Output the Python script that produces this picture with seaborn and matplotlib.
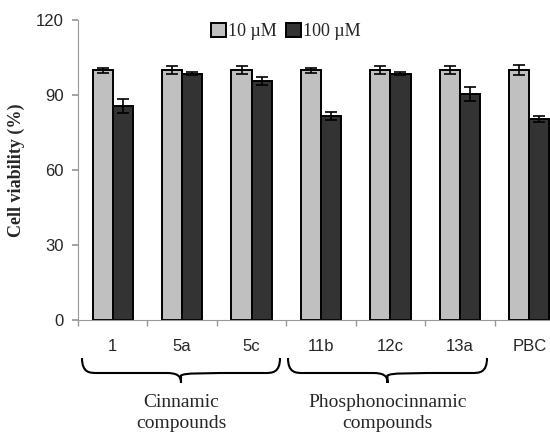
import numpy as np
import pandas as pd
import matplotlib
matplotlib.use("Agg")
import matplotlib.pyplot as plt
from matplotlib.path import Path
from matplotlib.patches import PathPatch
import seaborn as sns

compounds = ["1", "5a", "5c", "11b", "12c", "13a", "PBC"]
conc_labels = ["10 \u00b5M", "100 \u00b5M"]
viab_10 = [100, 100, 100, 100, 100, 100, 100]
err_10 = [1.0, 1.5, 1.5, 1.0, 1.5, 1.5, 2.0]
viab_100 = [85.6, 98.6, 95.6, 81.6, 98.6, 90.4, 80.4]
err_100 = [2.7, 0.5, 1.5, 1.7, 0.7, 2.7, 1.2]
group_names = ["Cinnamic\ncompounds", "Phosphonocinnamic\ncompounds"]
group_members = [["1", "5a", "5c"], ["11b", "12c", "13a"]]
yticks = [0, 30, 60, 90, 120]

sns.set_theme(style="white")
plt.rcParams['font.family'] = ['Liberation Sans', 'DejaVu Sans']

df = pd.DataFrame({
    "compound": compounds * 2,
    "conc": [conc_labels[0]] * len(compounds) + [conc_labels[1]] * len(compounds),
    "viability": viab_10 + viab_100,
    "err": err_10 + err_100,
})

W, H = 550, 438
fig = plt.figure(figsize=(W / 100, H / 100), dpi=100)
ax_left, ax_right = 78, 564
ax_top, ax_bot = 20, 320
ax = fig.add_axes([ax_left / W, 1 - ax_bot / H, (ax_right - ax_left) / W, (ax_bot - ax_top) / H])

sns.barplot(data=df, x="compound", y="viability", hue="conc", order=compounds,
            hue_order=conc_labels, palette=["#c0c0c0", "#333333"], width=0.58,
            edgecolor="black", linewidth=1.4, errorbar=None, ax=ax, legend=True,
            gap=0)

# error bars, positioned from the bar patches
bars = [p for p in ax.patches if p.get_height() > 0]
n = len(compounds)
for i, p in enumerate(bars[:2 * n]):
    e = df["err"].iloc[i]
    xc = p.get_x() + p.get_width() / 2
    ax.errorbar(xc, p.get_height(), yerr=e, fmt="none", ecolor="black",
                elinewidth=1.2, capsize=4, capthick=1.2, zorder=5)

ax.set_ylim(0, 120)
ax.set_xlim(-0.5, n - 0.5)
ax.set_yticks(yticks)
ax.set_yticklabels([str(t) for t in yticks], fontsize=12)
ax.set_xticks(range(n))
ax.set_xticklabels(compounds, fontsize=12)
ax.set_xticks(np.arange(-0.5, n, 1.0), minor=True)
ax.tick_params(axis="x", which="major", length=0, pad=14)
ax.tick_params(axis="x", which="minor", length=4, color="#999999", direction="out", bottom=True)
ax.tick_params(axis="y", length=4, color="#999999", direction="out", left=True, pad=6)
ax.set_xlabel("")
ax.set_ylabel("Cell viability (%)", fontsize=13, fontweight="bold",
              family=["Liberation Serif", "DejaVu Serif"], labelpad=8)
for s in ["top", "right"]:
    ax.spines[s].set_visible(False)
for s in ["left", "bottom"]:
    ax.spines[s].set_color("#999999")
    ax.spines[s].set_linewidth(0.8)

leg = ax.legend(loc="upper center", bbox_to_anchor=((286 - ax_left) / (ax_right - ax_left), 1.045),
                ncol=2, frameon=False, handlelength=0.8, handleheight=0.8,
                handletextpad=0.15, columnspacing=0.5,
                prop={"family": ["Liberation Serif", "DejaVu Serif"], "size": 13})

# braces beneath groups (figure pixel coordinates)
def brace(x0, x1, y_top, depth):
    xm = (x0 + x1) / 2
    d = depth
    verts = [(x0, y_top), (x0, y_top - d * 0.6), (x0 + 8, y_top - d * 0.6), (x0 + 15, y_top - d * 0.6),
             (xm - 15, y_top - d * 0.6), (xm - 4, y_top - d * 0.6), (xm, y_top - d * 0.7), (xm, y_top - d)]
    verts2 = [(xm, y_top - d), (xm, y_top - d * 0.7), (xm + 4, y_top - d * 0.6), (xm + 15, y_top - d * 0.6),
              (x1 - 15, y_top - d * 0.6), (x1 - 8, y_top - d * 0.6), (x1, y_top - d * 0.6), (x1, y_top)]
    codes = [Path.MOVETO, Path.CURVE4, Path.CURVE4, Path.CURVE4, Path.LINETO, Path.CURVE4, Path.CURVE4, Path.CURVE4]
    v = verts + verts2[1:]
    c = codes + codes[1:]
    c[len(codes)] = Path.LINETO
    return Path(v, c)

for name, members, (px0, px1) in zip(group_names, group_members, [(82, 280), (288, 487)]):
    y_top = H - 358
    path = brace(px0, px1, y_top, 25)
    fig.patches.append(PathPatch(path, transform=None, fill=False, edgecolor="black", lw=1.5))
    xm = (px0 + px1) / 2
    fig.text(xm / W, 1 - 413 / H, name, ha="center", va="center", fontsize=14,
             family=["Liberation Serif", "DejaVu Serif"], linespacing=1.3)

fig.savefig("out.png", dpi=100)
